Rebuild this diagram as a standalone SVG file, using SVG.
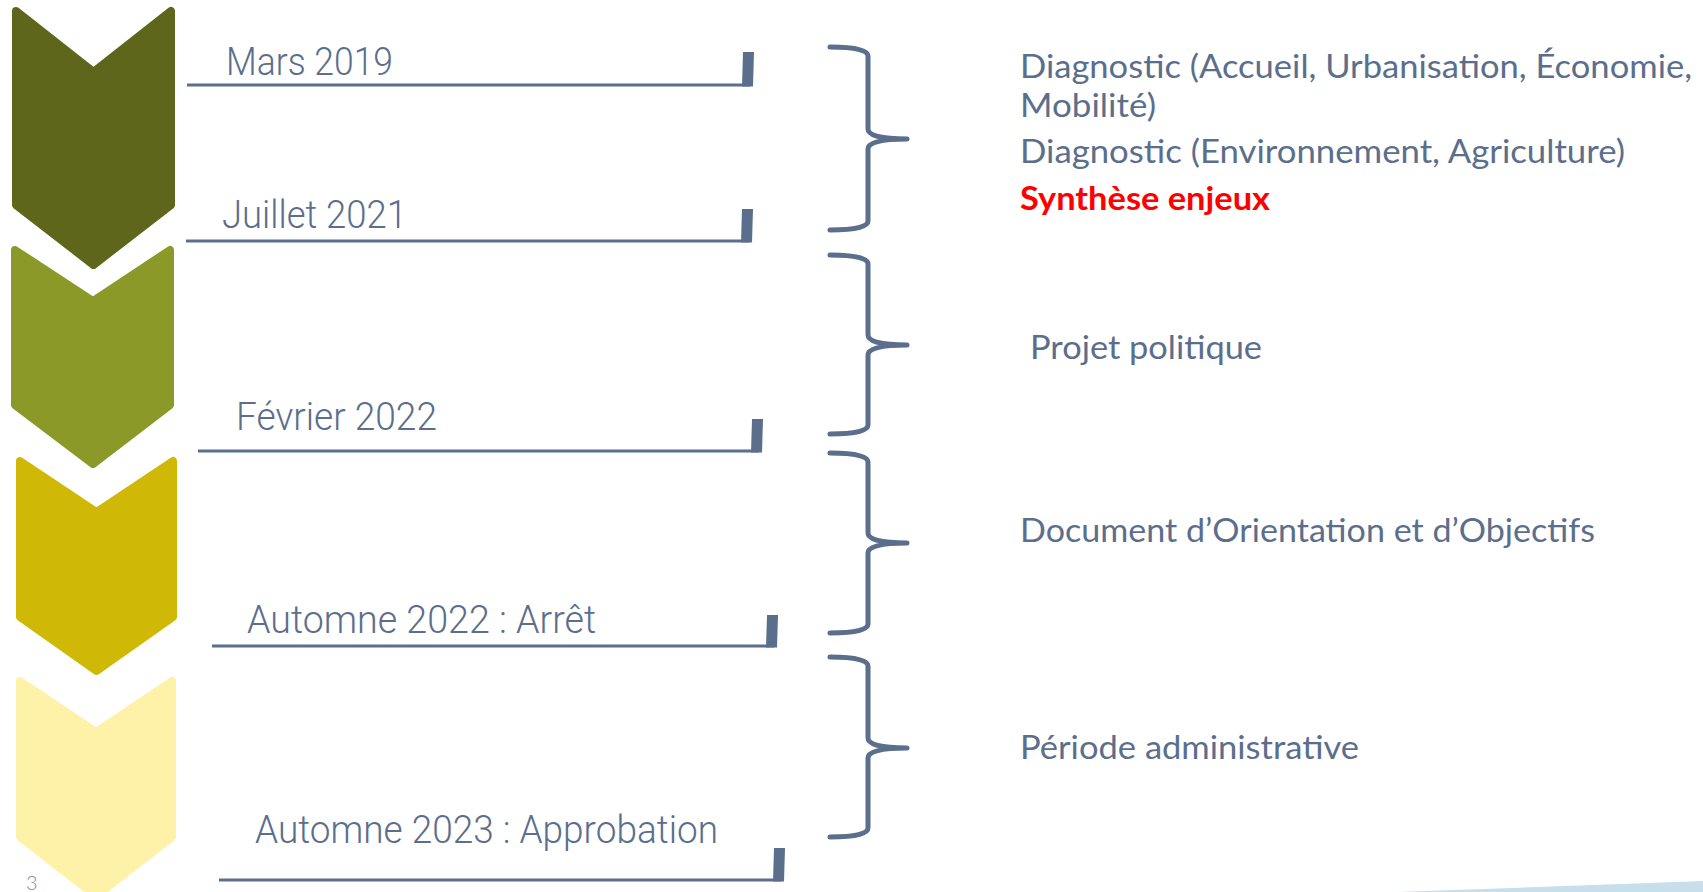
<svg xmlns="http://www.w3.org/2000/svg" width="1703" height="892" viewBox="0 0 1703 892">
  <style>
    .chev { stroke-width: 8; stroke-linejoin: round; }
    .date { font-family: Roboto, "Liberation Sans", sans-serif; font-size: 38px; font-weight: 300; fill: #5B6E8C; }
    .desc { font-family: Lato, "Liberation Sans", sans-serif; font-size: 32px; fill: #5B6E8C; }
    .red { font-family: Lato, "Liberation Sans", sans-serif; font-size: 32px; font-weight: bold; fill: #FF0000; }
    .rule { stroke: #5B6E8C; stroke-width: 3; fill: none; }
    .tick { fill: #5B6E8C; }
    .brace { stroke: #5B6E8C; stroke-width: 5; fill: none; stroke-linecap: round; stroke-linejoin: round; }
  </style>
  <rect width="1703" height="892" fill="#FFFFFF"/>

  <g id="chevron-1">
    <polygon class="chev" fill="#5E661B" stroke="#5E661B" points="16,11 93.5,72 171,11 171,205 93.5,265 16,205"/>
  </g>
  <g id="chevron-2">
    <polygon class="chev" fill="#8A9928" stroke="#8A9928" points="15,250 93,301 170,250 170,405 93,464 15,405"/>
  </g>
  <g id="chevron-3">
    <polygon class="chev" fill="#D0B806" stroke="#D0B806" points="20,461 96.5,512 173,461 173,617 96.5,671 20,617"/>
  </g>
  <g id="chevron-4">
    <polygon class="chev" fill="#FEF2A8" stroke="#FEF2A8" points="20,681 96,732 172,681 172,837 96,896 20,837"/>
  </g>

  <g id="date-mars-2019">
    <text class="date" x="226" y="75" textLength="167" lengthAdjust="spacingAndGlyphs">Mars 2019</text>
    <line class="rule" x1="187" y1="85" x2="750" y2="85"/>
    <polygon class="tick" points="743,52 754,52 753,86.5 742,86.5"/>
  </g>
  <g id="date-juillet-2021">
    <text class="date" x="222" y="228" textLength="185" lengthAdjust="spacingAndGlyphs">Juillet 2021</text>
    <line class="rule" x1="186" y1="241" x2="749" y2="241"/>
    <polygon class="tick" points="742,209 753,209 752,242.5 741,242.5"/>
  </g>
  <g id="date-fevrier-2022">
    <text class="date" x="236" y="430" textLength="201" lengthAdjust="spacingAndGlyphs">Février 2022</text>
    <line class="rule" x1="198" y1="451" x2="759" y2="451"/>
    <polygon class="tick" points="752,419 763,419 762,452.5 751,452.5"/>
  </g>
  <g id="date-automne-2022">
    <text class="date" x="247" y="633" textLength="349" lengthAdjust="spacingAndGlyphs">Automne 2022 : Arrêt</text>
    <line class="rule" x1="212" y1="646" x2="774" y2="646"/>
    <polygon class="tick" points="767,615 778,615 777,647.5 766,647.5"/>
  </g>
  <g id="date-automne-2023">
    <text class="date" x="255" y="843" textLength="463" lengthAdjust="spacingAndGlyphs">Automne 2023 : Approbation</text>
    <line class="rule" x1="219" y1="880" x2="781" y2="880"/>
    <polygon class="tick" points="774,848 785,848 784,881.5 773,881.5"/>
  </g>

  <g id="connectors">
    <path class="brace" d="M830,47 Q868,47 868,56 L868,129 Q868,139 907,139 Q868,139 868,149 L868,221 Q868,230 830,230"/>
    <path class="brace" d="M830,255 Q868,255 868,264 L868,335 Q868,345 907,345 Q868,345 868,355 L868,425 Q868,434 830,434"/>
    <path class="brace" d="M830,453 Q868,453 868,462 L868,533 Q868,543 907,543 Q868,543 868,553 L868,624 Q868,633 830,633"/>
    <path class="brace" d="M830,657 Q868,657 868,666 L868,738 Q868,748 907,748 Q868,748 868,758 L868,828 Q868,837 830,837"/>
  </g>

  <g id="phase-diagnostic">
    <text class="desc" x="1020" y="78" textLength="672" lengthAdjust="spacingAndGlyphs">Diagnostic (Accueil, Urbanisation, Économie,</text>
    <text class="desc" x="1020" y="117" textLength="136" lengthAdjust="spacingAndGlyphs">Mobilité)</text>
    <text class="desc" x="1020" y="163" textLength="605" lengthAdjust="spacingAndGlyphs">Diagnostic (Environnement, Agriculture)</text>
    <text class="red" x="1020" y="210" textLength="250" lengthAdjust="spacingAndGlyphs">Synthèse enjeux</text>
  </g>
  <g id="phase-projet">
    <text class="desc" x="1030" y="359" textLength="232" lengthAdjust="spacingAndGlyphs">Projet politique</text>
  </g>
  <g id="phase-doo">
    <text class="desc" x="1020" y="542" textLength="575" lengthAdjust="spacingAndGlyphs">Document d’Orientation et d’Objectifs</text>
  </g>
  <g id="phase-admin">
    <text class="desc" x="1020" y="759" textLength="339" lengthAdjust="spacingAndGlyphs">Période administrative</text>
  </g>

  <g id="page-number">
    <text x="26" y="890" font-family="Lato, 'Liberation Sans', sans-serif" font-size="20" font-weight="300" fill="#8A8A8A">3</text>
  </g>
  <polygon id="corner-wedge" points="1398,892 1703,881 1703,892" fill="#C6DFEA"/>
</svg>
